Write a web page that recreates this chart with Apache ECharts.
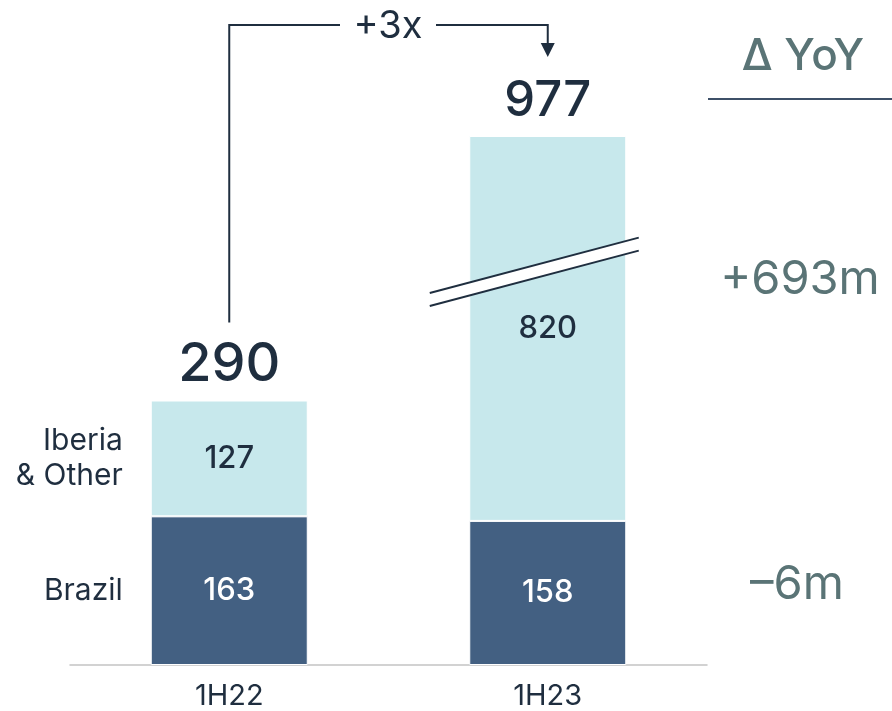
<!DOCTYPE html>
<html>
<head>
<meta charset="utf-8">
<script src="https://cdn.jsdelivr.net/npm/echarts@6/dist/echarts.min.js"></script>
<style>
  html, body { margin: 0; padding: 0; background: #ffffff; }
  #chart { width: 892px; height: 711px; }
</style>
</head>
<body>
<div id="chart"></div>
<script>
// Half-year EBITDA split by region (EUR m)
const periods = ['1H22', '1H23'];
const brazil = [163, 158];
const iberiaOther = [127, 820];
const totals = [290, 977];
const segmentNames = ['Iberia\n& Other', 'Brazil'];
const yoyTitle = 'Δ YoY';
const yoyChanges = ['+693m', '–6m'];
const growthLabel = '+3x';
// value range squeezed out of the y axis
const axisBreak = { start: 435, end: 833 };

const FONT = 'Inter, "Noto Sans", sans-serif';
const DARK = '#1f2e3f';
const NAVY = '#436082';
const AQUA = '#c7e8ec';
const TEAL = '#5a7476';
const BAR_W = 157;

const stackTop = brazil.map((v, i) => v + iberiaOther[i]);
const yMax = Math.max(...stackTop);

const chart = echarts.init(document.getElementById('chart'), null, { renderer: 'canvas' });

chart.setOption({
  animation: false,
  backgroundColor: '#ffffff',
  grid: { left: 70, right: 185, top: 136, bottom: 45, containLabel: false },
  xAxis: {
    type: 'category',
    data: periods,
    axisTick: { show: false },
    axisLine: { lineStyle: { color: '#c4c4c4', width: 1.5 } },
    axisLabel: { color: DARK, fontSize: 29, fontFamily: FONT, margin: 17 }
  },
  yAxis: {
    type: 'value',
    min: 0,
    max: yMax,
    breaks: [{ start: axisBreak.start, end: axisBreak.end, gap: 0 }],
    breakArea: { show: false },
    axisLabel: { show: false },
    axisLine: { show: false },
    axisTick: { show: false },
    splitLine: { show: false }
  },
  series: [
    {
      name: 'Brazil',
      type: 'bar',
      stack: 'total',
      barWidth: BAR_W,
      data: brazil,
      itemStyle: { color: NAVY, borderColor: '#ffffff', borderWidth: 1 },
      label: {
        show: true, position: 'inside', color: '#ffffff',
        fontSize: 31, fontFamily: FONT, fontWeight: 500
      }
    },
    {
      name: 'Iberia & Other',
      type: 'bar',
      stack: 'total',
      barWidth: BAR_W,
      data: iberiaOther,
      itemStyle: { color: AQUA, borderColor: '#ffffff', borderWidth: 1 },
      label: {
        show: true, position: 'inside', color: DARK,
        fontSize: 31, fontFamily: FONT, fontWeight: 500
      }
    },
    {
      name: 'Total',
      type: 'scatter',
      symbolSize: 0,
      itemStyle: { opacity: 1 },
      data: [
        { value: [0, totals[0]], label: { fontSize: 54, distance: 9 } },
        { value: [1, totals[1]], label: { fontSize: 49, distance: 11 } }
      ],
      label: {
        show: true, position: 'top', color: DARK, opacity: 1,
        fontFamily: FONT, fontWeight: 500,
        formatter: p => String(p.value[1])
      },
      z: 5
    }
  ]
});

// Annotations placed from the chart's own coordinate system
function px(cat, val) {
  return chart.convertToPixel({ gridIndex: 0 }, [cat, val]);
}

const p0Top = px(0, stackTop[0]);
const p1Top = px(1, stackTop[1]);
const p0Mid = px(0, brazil[0] + iberiaOther[0] / 2);
const p0Low = px(0, brazil[0] / 2);
const brk = px(1, axisBreak.start);

const barLeft0 = p0Top[0] - BAR_W / 2;
const bracketY = 25;
const leftX = p0Top[0];
const rightX = p1Top[0];
const leftBottom = p0Top[1] - 78;
const arrowTip = p1Top[1] - 79;
const textCx = 388;

// slanted double stroke marking the axis break
const slope = 0.265;
const half = 6.5;
const x0 = brk[0] - 118, x1 = brk[0] + 91;
const yAt = (x, off) => brk[1] + off - (x - brk[0]) * slope;

const graphics = [
  // growth bracket
  {
    type: 'polyline',
    shape: { points: [[leftX, leftBottom], [leftX, bracketY], [textCx - 48, bracketY]] },
    style: { stroke: DARK, lineWidth: 2, fill: null }
  },
  {
    type: 'polyline',
    shape: { points: [[textCx + 48, bracketY], [rightX, bracketY], [rightX, arrowTip - 12]] },
    style: { stroke: DARK, lineWidth: 2, fill: null }
  },
  {
    type: 'polygon',
    shape: { points: [[rightX - 7, arrowTip - 14], [rightX + 7, arrowTip - 14], [rightX, arrowTip]] },
    style: { fill: DARK }
  },
  {
    type: 'text',
    x: textCx, y: bracketY + 2,
    style: {
      text: growthLabel, fill: DARK, fontSize: 38, fontFamily: FONT, fontWeight: 400,
      align: 'center', verticalAlign: 'middle'
    }
  },
  // axis break marker
  {
    type: 'polygon',
    shape: { points: [[x0, yAt(x0, -half)], [x1, yAt(x1, -half)], [x1, yAt(x1, half)], [x0, yAt(x0, half)]] },
    style: { fill: '#ffffff' }, z: 10
  },
  {
    type: 'line',
    shape: { x1: x0, y1: yAt(x0, -half), x2: x1, y2: yAt(x1, -half) },
    style: { stroke: DARK, lineWidth: 2 }, z: 11
  },
  {
    type: 'line',
    shape: { x1: x0, y1: yAt(x0, half), x2: x1, y2: yAt(x1, half) },
    style: { stroke: DARK, lineWidth: 2 }, z: 11
  },
  // segment names beside the first bar
  {
    type: 'text',
    x: barLeft0 - 28, y: p0Mid[1],
    style: {
      text: segmentNames[0], fill: DARK, fontSize: 30, fontFamily: FONT, lineHeight: 35,
      align: 'right', verticalAlign: 'middle'
    }
  },
  {
    type: 'text',
    x: barLeft0 - 28, y: p0Low[1],
    style: {
      text: segmentNames[1], fill: DARK, fontSize: 30, fontFamily: FONT,
      align: 'right', verticalAlign: 'middle'
    }
  },
  // year-on-year column
  {
    type: 'text',
    x: 803, y: 57,
    style: {
      text: yoyTitle, fill: TEAL, fontSize: 44, fontFamily: FONT, fontWeight: 500,
      align: 'center', verticalAlign: 'middle'
    }
  },
  {
    type: 'line',
    shape: { x1: 708, y1: 99, x2: 892, y2: 99 },
    style: { stroke: '#3d5068', lineWidth: 2 }
  },
  {
    type: 'text',
    x: 800, y: 280,
    style: {
      text: yoyChanges[0], fill: TEAL, fontSize: 47, fontFamily: FONT,
      align: 'center', verticalAlign: 'middle'
    }
  },
  {
    type: 'text',
    x: 797, y: 585,
    style: {
      text: yoyChanges[1], fill: TEAL, fontSize: 47, fontFamily: FONT,
      align: 'center', verticalAlign: 'middle'
    }
  }
];

chart.setOption({ graphic: graphics });
</script>
</body>
</html>
